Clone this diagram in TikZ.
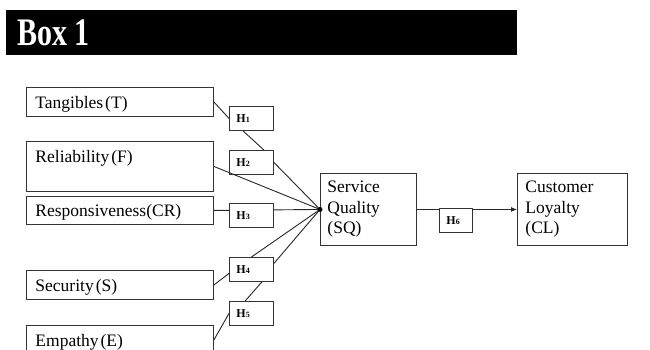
\documentclass[tikz,border=0pt]{standalone}
\usepackage{fontspec}
\setmainfont{Liberation Serif}
\usetikzlibrary{arrows.meta}
\def\lft{26}
\def\hx{229}
\newcommand{\hlabel}[1]{H{\fontsize{8}{8}\selectfont #1}}
\newcommand{\boxfont}{\fontsize{17.5}{20.4}\selectfont\fontdimen2\font=2pt\relax}

\begin{document}
\begin{tikzpicture}[x=1pt, y=-1pt,
    box/.style={draw=black!80, line width=0.9pt, anchor=north west, minimum width=187pt, minimum height=29pt, text width=169pt, inner xsep=9pt, inner ysep=0pt, align=flush left, font=\boxfont},
    factor/.style={box, text depth=0pt},
    construct/.style={box, minimum height=72pt},
    hyp/.style={draw=black!80, fill=white, line width=0.9pt, anchor=north west, minimum width=44pt, minimum height=24pt, text width=30pt, inner xsep=7pt, inner ysep=0pt, align=flush left, text depth=0pt, font=\fontsize{12}{12}\selectfont\bfseries},
    link/.style={draw=black!85, line width=0.9pt}]
            \useasboundingbox (0, 0) rectangle (650, 350);
            \node[fill=black, anchor=north west, minimum width=511pt, minimum height=45pt, text width=489pt, inner xsep=11pt, inner ysep=0pt, align=flush left, text depth=0pt, text=white, font=\fontsize{39}{39}\selectfont\bfseries] (title) at (6, 10) {\scalebox{0.77}[1]{Box 1}};

            \node[factor] (T) at (\lft, 87) {Tangibles (T)};
            \node[box, minimum height=50pt] (F) at (\lft, 141) {Reliability (F)\\\mbox{}};
            \node[factor, minimum height=28pt] (CR) at (\lft, 196) {Responsiveness(CR)};
            \node[factor] (S) at (\lft, 270) {Security (S)};
            \node[factor] (E) at (\lft, 325) {Empathy (E)};

            \node[construct, minimum width=96pt, text width=82pt, inner xsep=7pt] (SQ) at (320, 173) {Service\\Quality\\(SQ)};
            \node[construct, minimum width=110pt, text width=94pt, inner xsep=8pt] (CL) at (517, 173) {Customer\\Loyalty\\(CL)};
            \coordinate (J) at (SQ.west);

            \draw[link] (CR.east) -- (J);
            \draw[link, -{Latex[length=6pt, width=5pt]}] (SQ.east) -- (CL.west);

            \node[hyp] (H1) at (\hx, 106) {\hlabel{1}};
            \node[hyp] (H2) at (\hx, 150) {\hlabel{2}};
            \node[hyp] (H3) at (\hx, 203) {\hlabel{3}};
            \node[hyp] (H4) at (\hx, 257) {\hlabel{4}};
            \node[hyp] (H5) at (\hx, 301) {\hlabel{5}};
            \node[hyp, minimum width=33pt, text width=19pt] (H6) at (439, 208) {\hlabel{6}};

            \draw[link] (T.east) -- (H1.west);
            \draw[link] (H1.236) -- (H2.45);
            \draw[link] (H2.east) -- (J);
            \draw[link] (F.east) -- (J);
            \draw[link] (S.east) -- (H4.190);
            \draw[link] (H4.north) -- (J);
            \draw[link] (E.east) -- (H5.west);
            \draw[link] (H5.117) -- (H4.310);
            \draw[link] (H4.15) -- (J);
            \fill (J) circle (2.5pt);
\end{tikzpicture}
\end{document}
